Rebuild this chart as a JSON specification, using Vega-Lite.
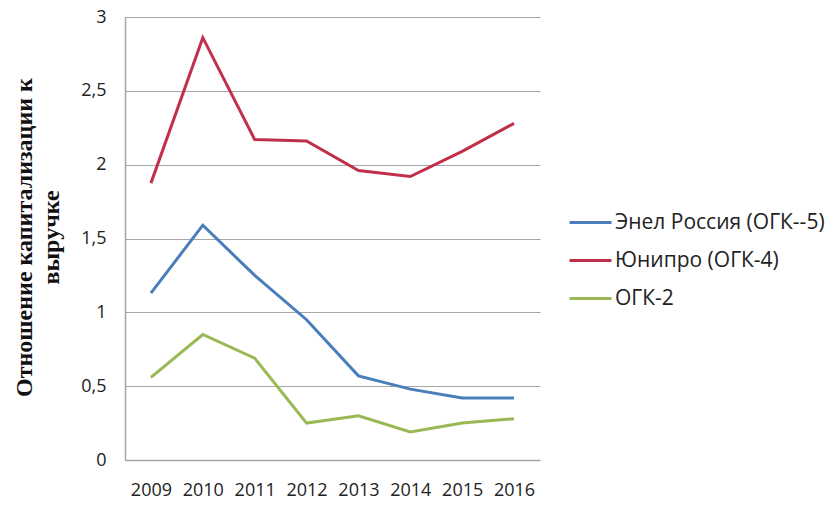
{
  "$schema": "https://vega.github.io/schema/vega-lite/v6.json",
  "width": 415,
  "height": 443,
  "autosize": {"type": "none"},
  "padding": {"left": 125, "top": 17, "right": 290, "bottom": 47},
  "background": "white",
  "data": {"values": [
    {"year": "2009", "series": "Энел Россия (ОГК--5)", "value": 1.13},
    {"year": "2010", "series": "Энел Россия (ОГК--5)", "value": 1.59},
    {"year": "2011", "series": "Энел Россия (ОГК--5)", "value": 1.25},
    {"year": "2012", "series": "Энел Россия (ОГК--5)", "value": 0.95},
    {"year": "2013", "series": "Энел Россия (ОГК--5)", "value": 0.57},
    {"year": "2014", "series": "Энел Россия (ОГК--5)", "value": 0.48},
    {"year": "2015", "series": "Энел Россия (ОГК--5)", "value": 0.42},
    {"year": "2016", "series": "Энел Россия (ОГК--5)", "value": 0.42},
    {"year": "2009", "series": "Юнипро (ОГК-4)", "value": 1.875},
    {"year": "2010", "series": "Юнипро (ОГК-4)", "value": 2.86},
    {"year": "2011", "series": "Юнипро (ОГК-4)", "value": 2.17},
    {"year": "2012", "series": "Юнипро (ОГК-4)", "value": 2.16},
    {"year": "2013", "series": "Юнипро (ОГК-4)", "value": 1.96},
    {"year": "2014", "series": "Юнипро (ОГК-4)", "value": 1.92},
    {"year": "2015", "series": "Юнипро (ОГК-4)", "value": 2.09},
    {"year": "2016", "series": "Юнипро (ОГК-4)", "value": 2.28},
    {"year": "2009", "series": "ОГК-2", "value": 0.56},
    {"year": "2010", "series": "ОГК-2", "value": 0.85},
    {"year": "2011", "series": "ОГК-2", "value": 0.69},
    {"year": "2012", "series": "ОГК-2", "value": 0.25},
    {"year": "2013", "series": "ОГК-2", "value": 0.30},
    {"year": "2014", "series": "ОГК-2", "value": 0.19},
    {"year": "2015", "series": "ОГК-2", "value": 0.25},
    {"year": "2016", "series": "ОГК-2", "value": 0.28}
  ]},
  "mark": {"type": "line", "strokeWidth": 3},
  "encoding": {
    "x": {
      "field": "year", "type": "ordinal",
      "scale": {"type": "point", "padding": 0.5},
      "axis": {
        "title": null, "labelAngle": 0, "labelFont": "Open Sans", "labelFontSize": 18,
        "labelColor": "#222222", "labelPadding": 21, "ticks": false,
        "domainColor": "#a6a6a6", "domainWidth": 1.5, "grid": false
      }
    },
    "y": {
      "field": "value", "type": "quantitative",
      "scale": {"domain": [0, 3]},
      "axis": {
        "values": [0, 0.5, 1, 1.5, 2, 2.5, 3],
        "labelExpr": "replace(toString(datum.value), '.', ',')",
        "labelFont": "Open Sans", "labelFontSize": 18, "labelColor": "#222222",
        "labelPadding": 19, "ticks": false,
        "domainColor": "#a6a6a6", "domainWidth": 1.5,
        "grid": true, "gridColor": "#a6a6a6", "gridWidth": 1.2,
        "title": ["Отношение капитализации к", "выручке"],
        "titleFont": "Liberation Serif", "titleFontWeight": "bold", "titleFontSize": 24,
        "titleColor": "#111111", "titlePadding": 17, "titleLineHeight": 27, "titleY": 220
      }
    },
    "color": {
      "field": "series", "type": "nominal",
      "sort": ["Энел Россия (ОГК--5)", "Юнипро (ОГК-4)", "ОГК-2"],
      "scale": {
        "domain": ["Энел Россия (ОГК--5)", "Юнипро (ОГК-4)", "ОГК-2"],
        "range": ["#4a7ebb", "#c0304d", "#98b954"]
      },
      "legend": {
        "title": null, "orient": "none", "legendX": 450, "legendY": 190,
        "symbolType": "M-1.5,0H1.5", "symbolSize": 784, "symbolStrokeWidth": 3,
        "labelFont": "Open Sans", "labelFontSize": 21, "labelColor": "#222222",
        "labelOffset": 9, "rowPadding": 12, "labelLimit": 400
      }
    }
  },
  "config": {"view": {"stroke": null}}
}
